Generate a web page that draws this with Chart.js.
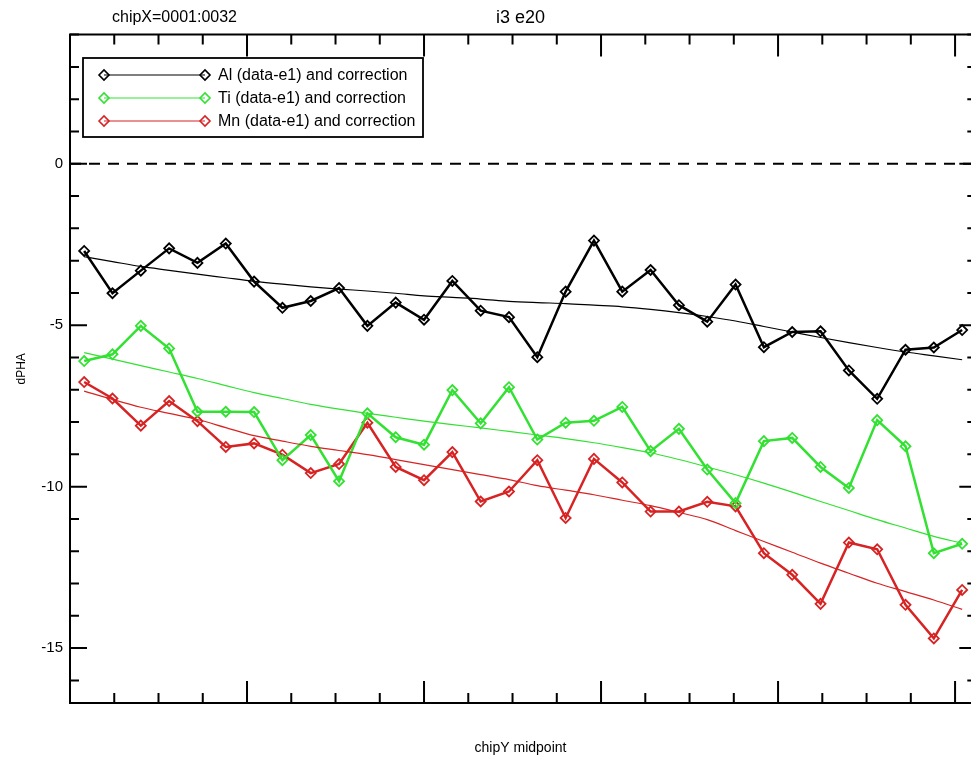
<!DOCTYPE html>
<html>
<head>
<meta charset="utf-8">
<script src="https://cdn.jsdelivr.net/npm/chart.js@4"></script>
<style>
  html, body { margin: 0; padding: 0; background: #fff; overflow: hidden; }
</style>
</head>
<body>
<canvas id="myChart" width="971" height="762"></canvas>
<script>
// chipY bin midpoints
const chipY = [16, 48, 80, 112, 144, 176, 208, 240, 272, 304, 336, 368, 400, 432, 464, 496,
               528, 560, 592, 624, 656, 688, 720, 752, 784, 816, 848, 880, 912, 944, 976, 1008];

const alData = [-2.70, -4.01, -3.31, -2.62, -3.07, -2.47, -3.65, -4.46, -4.25, -3.85, -5.02, -4.30, -4.83, -3.63, -4.55, -4.75,
                -5.99, -3.96, -2.38, -3.96, -3.29, -4.38, -4.89, -3.74, -5.68, -5.21, -5.19, -6.40, -7.28, -5.76, -5.69, -5.15];
const alFit  = [-2.88, -3.03, -3.18, -3.30, -3.42, -3.53, -3.64, -3.73, -3.81, -3.88, -3.94, -4.01, -4.09, -4.14, -4.19, -4.26,
                -4.30, -4.33, -4.38, -4.43, -4.51, -4.61, -4.73, -4.87, -5.04, -5.21, -5.38, -5.54, -5.69, -5.83, -5.95, -6.07];

const tiData = [-6.11, -5.90, -5.02, -5.72, -7.68, -7.68, -7.69, -9.18, -8.40, -9.83, -7.73, -8.47, -8.70, -7.01, -8.04, -6.92,
                -8.54, -8.02, -7.96, -7.53, -8.90, -8.21, -9.47, -10.51, -8.59, -8.49, -9.39, -10.04, -7.94, -8.75, -12.06, -11.77];
const tiFit  = [-5.85, -6.05, -6.25, -6.45, -6.65, -6.87, -7.09, -7.27, -7.45, -7.60, -7.73, -7.85, -7.97, -8.08, -8.18, -8.29,
                -8.40, -8.51, -8.64, -8.79, -8.95, -9.16, -9.39, -9.63, -9.89, -10.17, -10.46, -10.74, -11.02, -11.28, -11.54, -11.75];

const mnData = [-6.76, -7.27, -8.11, -7.35, -7.97, -8.77, -8.66, -9.01, -9.58, -9.30, -8.02, -9.39, -9.80, -8.93, -10.46, -10.15,
                -9.18, -10.97, -9.14, -9.87, -10.77, -10.77, -10.47, -10.61, -12.06, -12.73, -13.63, -11.73, -11.94, -13.66, -14.70, -13.20];
const mnFit  = [-7.04, -7.30, -7.54, -7.73, -7.92, -8.17, -8.42, -8.59, -8.75, -8.88, -9.01, -9.16, -9.32, -9.47, -9.63, -9.78,
                -9.97, -10.11, -10.25, -10.42, -10.59, -10.80, -11.02, -11.36, -11.70, -12.03, -12.37, -12.68, -12.99, -13.25, -13.51, -13.80];

const zeroLine = [{x: 0, y: 0}, {x: 1024, y: 0}];
const legendLabels = ['Al (data-e1) and correction', 'Ti (data-e1) and correction', 'Mn (data-e1) and correction'];

const BLACK = '#000000';
const GREEN = 'rgb(50,225,50)';
const RED = 'rgb(215,35,35)';
const FONT = '"Liberation Sans", Arial, Helvetica, sans-serif';

function pts(ys) {
    return chipY.map((x, i) => ({x, y: ys[i]}));
}

function dataSet(ys, color) {
    return {
        data: pts(ys),
        borderColor: color,
        borderWidth: 2.5,
        pointStyle: 'rectRot',
        pointRadius: 5,
        pointBorderWidth: 1.8,
        pointBorderColor: color,
        pointBackgroundColor: 'rgba(0,0,0,0)',
        fill: false,
        tension: 0
    };
}

function fitSet(ys, color) {
    return {
        data: pts(ys),
        borderColor: color,
        borderWidth: 1.2,
        pointRadius: 0,
        fill: false,
        tension: 0.4,
        cubicInterpolationMode: 'monotone'
    };
}

// IDL-style frame: box with inward ticks on all four sides, legend, chipX note.
// The plot's right edge (chipY = 1024) lies just past the picture's edge.
const framePlugin = {
    id: 'frame',
    afterDatasetsDraw(chart) {
        const ctx = chart.ctx;
        const a = chart.chartArea;
        const xs = chart.scales.x;
        const ys = chart.scales.y;
        const xRight = xs.getPixelForValue(1024);
        ctx.save();
        ctx.strokeStyle = '#000';
        ctx.lineWidth = 2;
        ctx.beginPath();
        ctx.moveTo(xRight + 2, a.top); ctx.lineTo(a.left, a.top);
        ctx.lineTo(a.left, a.bottom); ctx.lineTo(xRight + 2, a.bottom);
        ctx.stroke();

        ctx.beginPath();
        for (let v = -16; v <= 4; v++) {
            const y = ys.getPixelForValue(v);
            const len = v % 5 === 0 ? 17 : 9;
            ctx.moveTo(a.left, y); ctx.lineTo(a.left + len, y);
            ctx.moveTo(xRight, y); ctx.lineTo(xRight - len, y);
        }
        for (let v = 50; v < 1024; v += 50) {
            const x = xs.getPixelForValue(v);
            const len = v % 200 === 0 ? 22 : 10;
            ctx.moveTo(x, a.bottom); ctx.lineTo(x, a.bottom - len);
            ctx.moveTo(x, a.top); ctx.lineTo(x, a.top + len);
        }
        ctx.stroke();

        // legend
        const colors = [BLACK, GREEN, RED];
        ctx.lineWidth = 1.8;
        ctx.strokeStyle = '#000';
        ctx.strokeRect(83, 58, 340, 79);
        ctx.font = '16px ' + FONT;
        ctx.textBaseline = 'middle';
        ctx.textAlign = 'left';
        legendLabels.forEach((txt, i) => {
            const y = 75 + i * 23;
            ctx.strokeStyle = colors[i];
            ctx.lineWidth = 1.2;
            ctx.beginPath();
            ctx.moveTo(104, y); ctx.lineTo(205, y);
            ctx.stroke();
            ctx.lineWidth = 1.6;
            [104, 205].forEach(x => {
                ctx.beginPath();
                ctx.moveTo(x - 5, y); ctx.lineTo(x, y - 5); ctx.lineTo(x + 5, y); ctx.lineTo(x, y + 5);
                ctx.closePath();
                ctx.stroke();
            });
            ctx.fillStyle = '#000';
            ctx.fillText(txt, 218, y + 1);
        });

        ctx.font = '16px ' + FONT;
        ctx.fillStyle = '#000';
        ctx.fillText('chipX=0001:0032', 112, 18);
        ctx.restore();
    }
};

const ctx = document.getElementById('myChart').getContext('2d');
const myChart = new Chart(ctx, {
    type: 'line',
    data: {
        datasets: [
            {
                data: zeroLine,
                borderColor: BLACK,
                borderWidth: 2,
                borderDash: [11, 8],
                pointRadius: 0,
                fill: false
            },
            fitSet(alFit, BLACK),
            fitSet(tiFit, GREEN),
            fitSet(mnFit, RED),
            dataSet(alData, BLACK),
            dataSet(tiData, GREEN),
            dataSet(mnData, RED)
        ]
    },
    options: {
        responsive: false,
        animation: false,
        events: [],
        layout: { padding: 0, autoPadding: false },
        plugins: {
            legend: { display: false },
            tooltip: { enabled: false },
            title: {
                display: true,
                text: 'i3 e20',
                fullSize: false,
                color: '#000',
                font: { family: FONT, size: 18, weight: 'normal' },
                padding: { top: 7, bottom: 6 }
            }
        },
        scales: {
            x: {
                type: 'linear',
                min: 0,
                max: 1018,
                grid: { display: false },
                border: { display: false },
                ticks: { display: false },
                title: {
                    display: true,
                    text: 'chipY midpoint',
                    color: '#000',
                    font: { family: FONT, size: 14 },
                    padding: { top: 0, bottom: 5 }
                },
                afterFit(scale) { scale.height = 59; }
            },
            y: {
                type: 'linear',
                min: -16.7,
                max: 4,
                grid: { display: false, drawTicks: false },
                border: { display: false },
                ticks: {
                    stepSize: 1,
                    autoSkip: false,
                    padding: 7,
                    color: '#000',
                    font: { family: FONT, size: 15 },
                    callback: v => (Math.abs(v % 5) < 1e-9 ? String(v) : '')
                },
                title: {
                    display: true,
                    text: 'dPHA',
                    color: '#000',
                    font: { family: FONT, size: 12 },
                    padding: { top: 14, bottom: 0 }
                },
                afterFit(scale) { scale.width = 70; }
            }
        }
    },
    plugins: [framePlugin]
});
</script>
</body>
</html>
